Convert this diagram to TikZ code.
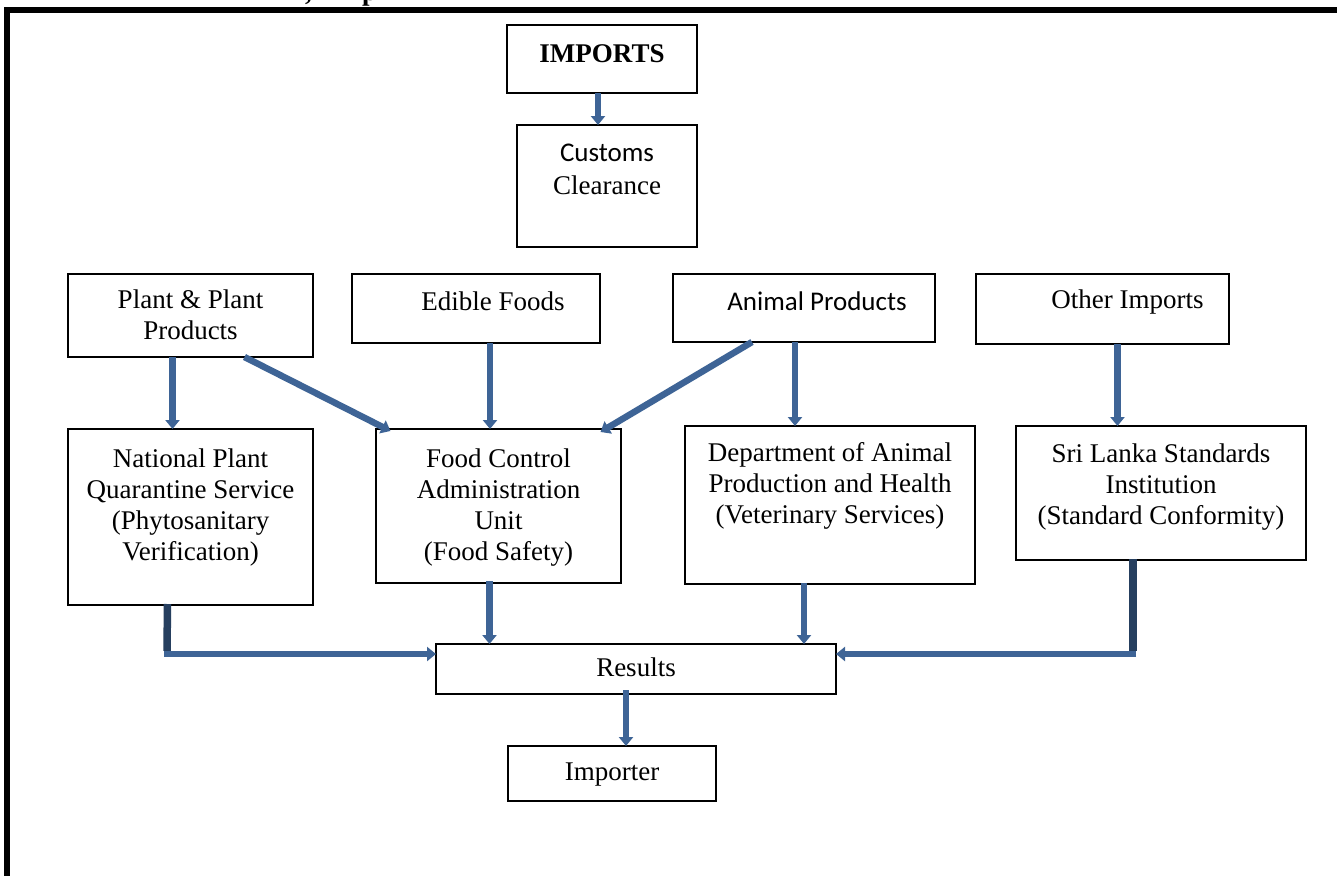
\documentclass[tikz,border=0pt]{standalone}
\usepackage{fontspec}
\setmainfont{Liberation Serif}
\newfontfamily\calib{Carlito}
\usetikzlibrary{arrows.meta}
\definecolor{arrblue}{RGB}{62,100,150}
\definecolor{arrnavy}{RGB}{38,63,95}
\tikzset{
  boxst/.style={draw=black, line width=1.8pt, inner sep=0pt, outer sep=0pt, fill=white,
    font=\fontsize{27}{31}\selectfont},
  arr/.style={draw=arrblue, line width=6.5pt, -{Triangle[width=14pt,length=9pt]}},
  navyline/.style={draw=arrnavy, line width=7.5pt},
  capfrag/.style={anchor=base west, inner sep=0pt, font=\bfseries\fontsize{27}{31}\selectfont}
}
\newcommand\bx[7]{%
  \node[boxst] (#1) at ({(#2+#4)/2},{(#3+#5)/2})
  {\parbox[c][\dimexpr #5pt-#3pt\relax][t]{\dimexpr #4pt-#2pt\relax}{\centering\rule{0pt}{#6pt}#7\par}};}
\begin{document}
\begin{tikzpicture}[x=1pt,y=-1pt]
\useasboundingbox (0,0) rectangle (1337,875);
\clip (0,0) rectangle (1337,875);
\fill[white] (0,0) rectangle (1337,875);
% cut caption fragments
\node[capfrag] (cap1) at (305,1) {,};
\node[capfrag] (cap2) at (362,1) {p};
% frame
\draw[line width=6pt] (7,900) -- (7,10) -- (1400,10);
% boxes
\bx{imp}{507}{25}{697}{93}{38}{\textbf{IMPORTS}}
\bx{cust}{517}{125}{697}{247}{36}{{\calib Customs}\\[2pt]Clearance}
\bx{plant}{68}{274}{313}{357}{34}{Plant \& Plant\\Products}
\bx{edib}{352}{274}{600}{343}{36}{\hspace*{34pt}Edible Foods}
\bx{anim}{673}{274}{935}{342}{36}{\hspace*{26pt}{\calib Animal Products}}
\bx{other}{976}{274}{1229}{344}{34}{\hspace*{50pt}Other Imports}
\bx{npqs}{68}{429}{313}{605}{38}{National Plant\\Quarantine Service\\(Phytosanitary\\Verification)}
\bx{food}{376}{429}{621}{583}{38}{Food Control\\Administration\\Unit\\(Food Safety)}
\bx{dept}{685}{426}{975}{584}{35}{Department of Animal\\Production and Health\\(Veterinary Services)}
\bx{sls}{1016}{426}{1306}{560}{36}{Sri Lanka Standards\\Institution\\(Standard Conformity)}
\bx{res}{436}{644}{836}{694}{32}{Results}
\bx{impr}{508}{746}{716}{801}{34}{Importer}
% connectors
\draw[arr] ([xshift=-4pt]imp.south) -- ([xshift=-4pt]imp.south |- cust.north);
\draw[arr] ([xshift=-18pt]plant.south) -- ([xshift=-18pt]npqs.north);
\draw[arr] ([xshift=54pt]plant.south) -- ([xshift=-108pt,yshift=-2pt]food.north);
\draw[arr] ([xshift=14pt]edib.south) -- ([xshift=14pt]edib.south |- food.north);
\draw[arr] ([xshift=-52pt]anim.south) -- ([xshift=102pt,yshift=-3pt]food.north);
\draw[arr] ([xshift=-9pt]anim.south) -- ([xshift=-9pt]anim.south |- dept.north);
\draw[arr] ([xshift=15pt]other.south) -- ([xshift=15pt]other.south |- sls.north);
\coordinate (c1) at (167,654);
\coordinate (c2) at (1133,654);
\draw[navyline] ([xshift=-23pt,yshift=1pt]npqs.south) -- ([yshift=3pt]c1);
\draw[arr] ([xshift=-3pt]c1) -- (c1 -| res.west);
\draw[navyline] ([xshift=-28pt,yshift=1pt]sls.south) -- ([yshift=3pt]c2);
\draw[arr] ([xshift=3pt]c2) -- (c2 -| res.east);
\draw[arr] ([xshift=-9pt,yshift=2pt]food.south) -- ([xshift=-9pt]food.south |- res.north);
\draw[arr] ([xshift=-26pt,yshift=1pt]dept.south) -- ([xshift=-26pt]dept.south |- res.north);
\draw[arr] ([xshift=-10pt,yshift=4pt]res.south) -- ([xshift=-10pt]res.south |- impr.north);
\end{tikzpicture}
\end{document}
